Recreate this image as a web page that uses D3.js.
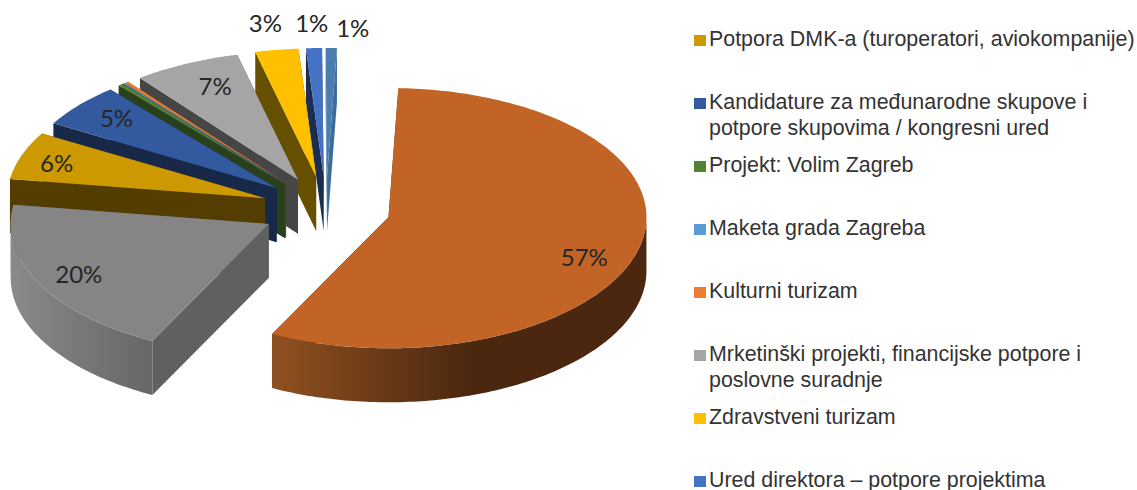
<!DOCTYPE html>
<html>
<head>
<meta charset="utf-8">
<script src="https://cdnjs.cloudflare.com/ajax/libs/d3/7.8.5/d3.min.js"></script>
<style>
  html, body { margin: 0; padding: 0; background: #fff; overflow: hidden; }
  .legend text { font-family: "Liberation Sans", Arial, sans-serif; font-size: 21.4px; fill: #333; }
  .label { font-family: Lato, "Open Sans", sans-serif; font-size: 24px; fill: #262626; text-anchor: middle; }
</style>
</head>
<body>
<div class="chart"></div>
<script>
// slices clockwise from the top, the first two and the last have no visible legend row
const sliceValues = [56.8, 19.9, 6.0, 5.49, 0.3, 0.1, 0.25, 6.7, 2.7, 1, 0.7];
const sliceLabels = ["57%", "20%", "6%", "5%", "", "", "", "7%", "3%", "1%", "1%"];

const legendNames = [
  ["Potpora DMK-a (turoperatori, aviokompanije)"],
  ["Kandidature za međunarodne skupove i", "potpore skupovima / kongresni ured"],
  ["Projekt: Volim Zagreb"],
  ["Maketa grada Zagreba"],
  ["Kulturni turizam"],
  ["Mrketinški projekti, financijske potpore i", "poslovne suradnje"],
  ["Zdravstveni turizam"],
  ["Ured direktora – potpore projektima"]
];
// legend row -> slice
const legendSlice = [2, 3, 4, 5, 6, 7, 8, 9];

const topColors = ["#C16426", "#858585", "#CC9900", "#335A9F", "#548235", "#5B9BD5", "#ED7D31", "#A5A5A5", "#FFC000", "#4472C4", "#4A7EB0"];
const faceColors = ["#5f3010", "#606060", "#543D00", "#172848", "#28401C", "#2a4a66", "#7a3d12", "#464646", "#665000", "#1B2E52", "#3A6C9C"];
const wallColors = [["#8f5120", "#4b270f", "#4b270f"], ["#8a8a8a", "#666666", "#666666"]];
const wallStops = [[0, 0.53, 1], [0, 1, 1]];

const width = 1137, height = 490;
const cx = 326, cy = 209, radius = 258, squash = 0.504, depth = 54, explode = 0.25;
const startAngle = 2.2 * Math.PI / 180;

// radial position of each label (share of radius) and small manual shifts
const labelR = [0.8, 0.82, 0.84, 0.81, 0, 0, 0, 0.75, 1.16, 1.14, 1.1];
const labelShift = [[-4, 15], [-2, 2], [-4, 2], [0, -2], [0, 0], [0, 0], [0, 0], [1, -6], [-5, -6], [-1, -6], [21, -6]];

const svg = d3.select(".chart").append("svg")
  .attr("width", width)
  .attr("height", height)
  .style("display", "block");
const defs = svg.append("defs");

const arcs = d3.pie().sort(null).value(d => d)
  .startAngle(startAngle).endAngle(startAngle + 2 * Math.PI)(sliceValues);

const xScale = d3.scaleLinear().domain([-1, 1]).range([cx - radius, cx + radius]);
const yScale = d3.scaleLinear().domain([-1, 1]).range([cy - radius * squash, cy + radius * squash]);

// ground coordinates -> picture, slight bend for the perspective of the original
let project = function (u, v) {
  return [xScale(u), yScale(v + 0.0075 * v * v)];
};

const line = d3.line();
const pieG = svg.append("g");
const farLeft = 3 * Math.PI / 2;

d3.range(arcs.length).reverse().forEach(i => {
  const a = arcs[i];
  const mid = (a.startAngle + a.endAngle) / 2;
  const ox = explode * Math.sin(mid), oy = -explode * Math.cos(mid);
  const at = (r, ang) => project(ox + r * Math.sin(ang), oy - r * Math.cos(ang));
  const down = p => [p[0], p[1] + depth];

  const apex = at(0, 0);
  const n = Math.max(2, Math.ceil((a.endAngle - a.startAngle) * 60));
  const rim = d3.range(n + 1).map(k => at(1, a.startAngle + (a.endAngle - a.startAngle) * k / n));
  const g = pieG.append("g");

  // the two cut faces
  [rim[0], rim[n]].forEach(p => {
    g.append("path")
      .attr("d", line([apex, p, down(p), down(apex)]) + "Z")
      .attr("fill", faceColors[i]);
  });

  // outer wall, from where it starts to face the viewer
  // split at the far left, the outline folds back there and would leave a hole
  const w0 = Math.max(a.startAngle, Math.PI / 2), w1 = a.endAngle;
  if (w1 > w0 && wallColors[i]) {
    const parts = w1 > farLeft ? [[w0, farLeft], [farLeft, w1]] : [[w0, w1]];
    defs.append("linearGradient")
      .attr("id", "wall" + i)
      .attr("gradientUnits", "userSpaceOnUse")
      .attr("x1", at(1, Math.min(w1, farLeft))[0]).attr("x2", at(1, w0)[0]).attr("y1", 0).attr("y2", 0)
      .selectAll("stop")
      .data(wallColors[i])
      .join("stop")
      .attr("offset", (d, k) => wallStops[i][k])
      .attr("stop-color", d => d);
    parts.forEach(part => {
      const m = Math.ceil((part[1] - part[0]) * 60);
      const wall = d3.range(m + 1).map(k => at(1, part[0] + (part[1] - part[0]) * k / m));
      g.append("path")
        .attr("d", line(wall.concat(wall.map(down).reverse())) + "Z")
        .attr("fill", "url(#wall" + i + ")");
    });
  }

  g.append("path")
    .attr("d", line([apex].concat(rim)) + "Z")
    .attr("fill", topColors[i]);

  if (sliceLabels[i]) {
    const p = at(labelR[i], mid);
    pieG.append("text")
      .attr("class", "label")
      .attr("x", p[0] + labelShift[i][0])
      .attr("y", p[1] + labelShift[i][1] + 8)
      .text(sliceLabels[i]);
  }
});

// labels go over every slice
pieG.selectAll("text").raise();

// legend, rows sit on an even step
const legendY = d3.scaleLinear().domain([0, 1]).range([46, 109]);
const legend = svg.append("g").attr("class", "legend");
legendNames.forEach((lines, i) => {
  const y = legendY(i);
  legend.append("rect")
    .attr("x", 694).attr("y", y - 11)
    .attr("width", 12).attr("height", 11)
    .attr("fill", topColors[legendSlice[i]]);
  lines.forEach((t, k) => {
    legend.append("text")
      .attr("x", 709)
      .attr("y", y + k * 26)
      .text(t);
  });
});
</script>
</body>
</html>
